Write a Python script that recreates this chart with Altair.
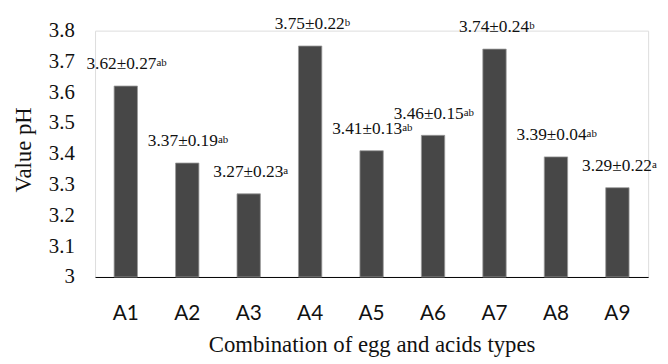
import altair as alt
import pandas as pd

categories = ["A1", "A2", "A3", "A4", "A5", "A6", "A7", "A8", "A9"]
ph_values = [3.62, 3.37, 3.27, 3.75, 3.41, 3.46, 3.74, 3.39, 3.29]
sd_values = [0.27, 0.19, 0.23, 0.22, 0.13, 0.15, 0.24, 0.04, 0.22]
letters = ["ab", "ab", "a", "b", "ab", "ab", "b", "ab", "a"]
y_ticks = [3.0, 3.1, 3.2, 3.3, 3.4, 3.5, 3.6, 3.7, 3.8]
baseline_value = 3.0

df = pd.DataFrame({
    "cat": categories,
    "ph": ph_values,
    "sd": sd_values,
    "sup": letters,
})
df["main"] = [f"{v:.2f}±{s:.2f}" for v, s in zip(ph_values, sd_values)]
df["suplen"] = df["sup"].str.len()
df["base"] = baseline_value

SERIF = "Liberation Serif"

x_axis = alt.Axis(
    title="Combination of egg and acids types",
    labelAngle=0,
    ticks=False,
    domainColor="#000000",
    domainWidth=1,
    labelFont="Lato",
    labelFontSize=21,
    labelColor="#111111",
    labelPadding=26,
    titleFont=SERIF,
    titleFontSize=23,
    titleFontWeight="normal",
    titleColor="#111111",
    titlePadding=10,
)
y_axis = alt.Axis(
    title="Value pH",
    values=y_ticks,
    labelExpr="datum.value == 3 ? '3' : format(datum.value, '.1f')",
    labelOverlap=False,
    labelBound=False,
    grid=False,
    domain=False,
    ticks=False,
    labelFont=SERIF,
    labelFontSize=21,
    labelColor="#111111",
    labelPadding=21,
    titleFont=SERIF,
    titleFontSize=23,
    titleFontWeight="normal",
    titleColor="#111111",
    titleX=-72,
    titleY=120,
    titleAngle=-90,
    titleAlign="center",
    titleBaseline="middle",
)
x_scale = alt.Scale(paddingInner=0.62, paddingOuter=0.31)
y_scale = alt.Scale(domain=[3.0, 3.8], zero=False, nice=False)

x_enc = alt.X("cat:N", sort=categories, scale=x_scale, axis=x_axis)
y_enc = alt.Y("ph:Q", scale=y_scale, axis=y_axis)

base = alt.Chart(df)

bars = base.mark_bar(color="#474747", stroke="#9a9a9a", strokeWidth=0.8).encode(
    x=x_enc, y=y_enc, y2="base:Q"
)


def text_layer(n, field, align, dx, dy, size):
    return base.transform_filter(f"datum.suplen == {n}").mark_text(
        align=align, baseline="middle", dx=dx, dy=dy,
        font=SERIF, fontSize=size, color="#111111"
    ).encode(x=x_enc, y=y_enc, text=f"{field}:N")


main_ab = text_layer(2, "main", "right", 31, -22, 17.5)
main_a = text_layer(1, "main", "right", 35, -22, 17.5)
sup_ab = text_layer(2, "sup", "left", 31, -23, 11)
sup_a = text_layer(1, "sup", "left", 35, -23, 11)

chart = alt.layer(bars, main_ab, main_a, sup_ab, sup_a).properties(
    width=559,
    height=249,
    autosize=alt.AutoSizeParams(type="none"),
    padding={"left": 88, "top": 21, "right": 12, "bottom": 79},
).configure_view(strokeWidth=0).configure(background="#ffffff")

chart.save("out.html", embed_options={"renderer": "svg", "actions": False})
